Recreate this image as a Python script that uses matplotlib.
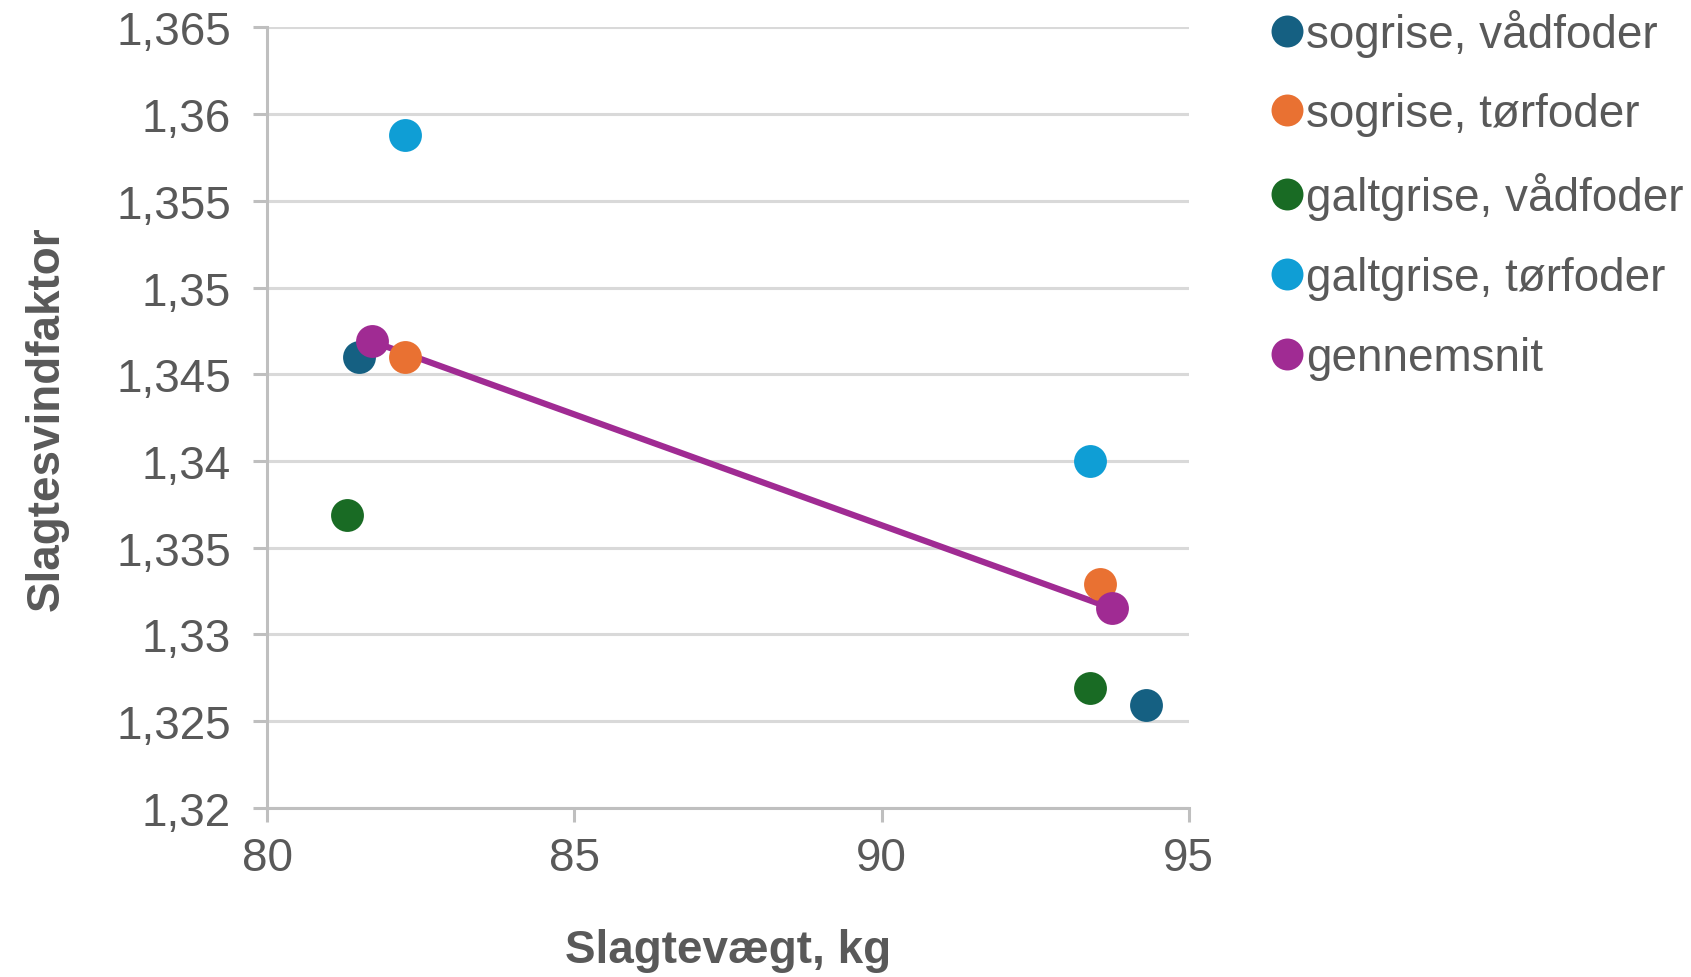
import matplotlib
matplotlib.use("Agg")
import matplotlib.pyplot as plt
from matplotlib.ticker import FuncFormatter, MultipleLocator
from matplotlib.lines import Line2D

plt.rcParams['font.family'] = ['Liberation Sans', 'DejaVu Sans']

# data
serier = ["sogrise, vådfoder", "sogrise, tørfoder", "galtgrise, vådfoder",
          "galtgrise, tørfoder", "gennemsnit"]
farver = ["#156082", "#E97132", "#196B24", "#0F9ED5", "#A02B93"]
vaegt = [
    [81.5, 94.3],
    [82.25, 93.55],
    [81.3, 93.4],
    [82.25, 93.4],
    [81.7, 93.75],
]
faktor = [
    [1.3460, 1.3259],
    [1.3460, 1.3329],
    [1.3369, 1.3269],
    [1.3588, 1.3400],
    [1.3469, 1.3315],
]

tekst = "#595959"
gitter = "#d9d9d9"
akse = "#bfbfbf"
fs = 33

fig = plt.figure(figsize=(16.91, 9.78), dpi=100)
ax = fig.add_axes([0.158, 0.173, 0.545, 0.798])

handles = []
for i in range(len(serier)):
    if serier[i] == "gennemsnit":
        ax.plot(vaegt[i], faktor[i], color=farver[i], lw=4.5, zorder=3)
    ax.scatter(vaegt[i], faktor[i], s=560, color=farver[i], zorder=4, linewidths=0)
    handles.append(Line2D([], [], ls="none", marker="o", ms=23,
                          markerfacecolor=farver[i], markeredgewidth=0, label=serier[i]))

ax.set_xlim(80, 95)
ax.set_ylim(1.32, 1.365)
ax.xaxis.set_major_locator(MultipleLocator(5))
ax.yaxis.set_major_locator(MultipleLocator(0.005))

def fmt(v, pos):
    return ("%.3f" % v).rstrip("0").rstrip(".").replace(".", ",")

ax.yaxis.set_major_formatter(FuncFormatter(fmt))
ax.xaxis.set_major_formatter(FuncFormatter(lambda v, p: "%d" % v))

ax.grid(axis="y", color=gitter, lw=2.2, zorder=0)
ax.set_axisbelow(True)
for s in ["top", "right"]:
    ax.spines[s].set_visible(False)
for s in ["left", "bottom"]:
    ax.spines[s].set_color(akse)
    ax.spines[s].set_linewidth(2.2)

ax.tick_params(axis="both", colors=akse, length=10, width=2.2, labelsize=fs,
               labelcolor=tekst)
ax.tick_params(axis="y", pad=16)
ax.tick_params(axis="x", pad=10)

ax.set_ylabel("Slagtesvindfaktor", fontsize=fs, fontweight="bold", color=tekst, labelpad=34)
ax.set_xlabel("Slagtevægt, kg", fontsize=fs, fontweight="bold", color=tekst, labelpad=35)

fig.legend(handles=handles, loc="upper left", bbox_to_anchor=(0.742, 1.009),
           frameon=False, fontsize=fs, labelcolor=tekst, handlelength=0.6,
           handletextpad=0.12, labelspacing=0.78, borderaxespad=0)

fig.savefig("out.png", dpi=100)
